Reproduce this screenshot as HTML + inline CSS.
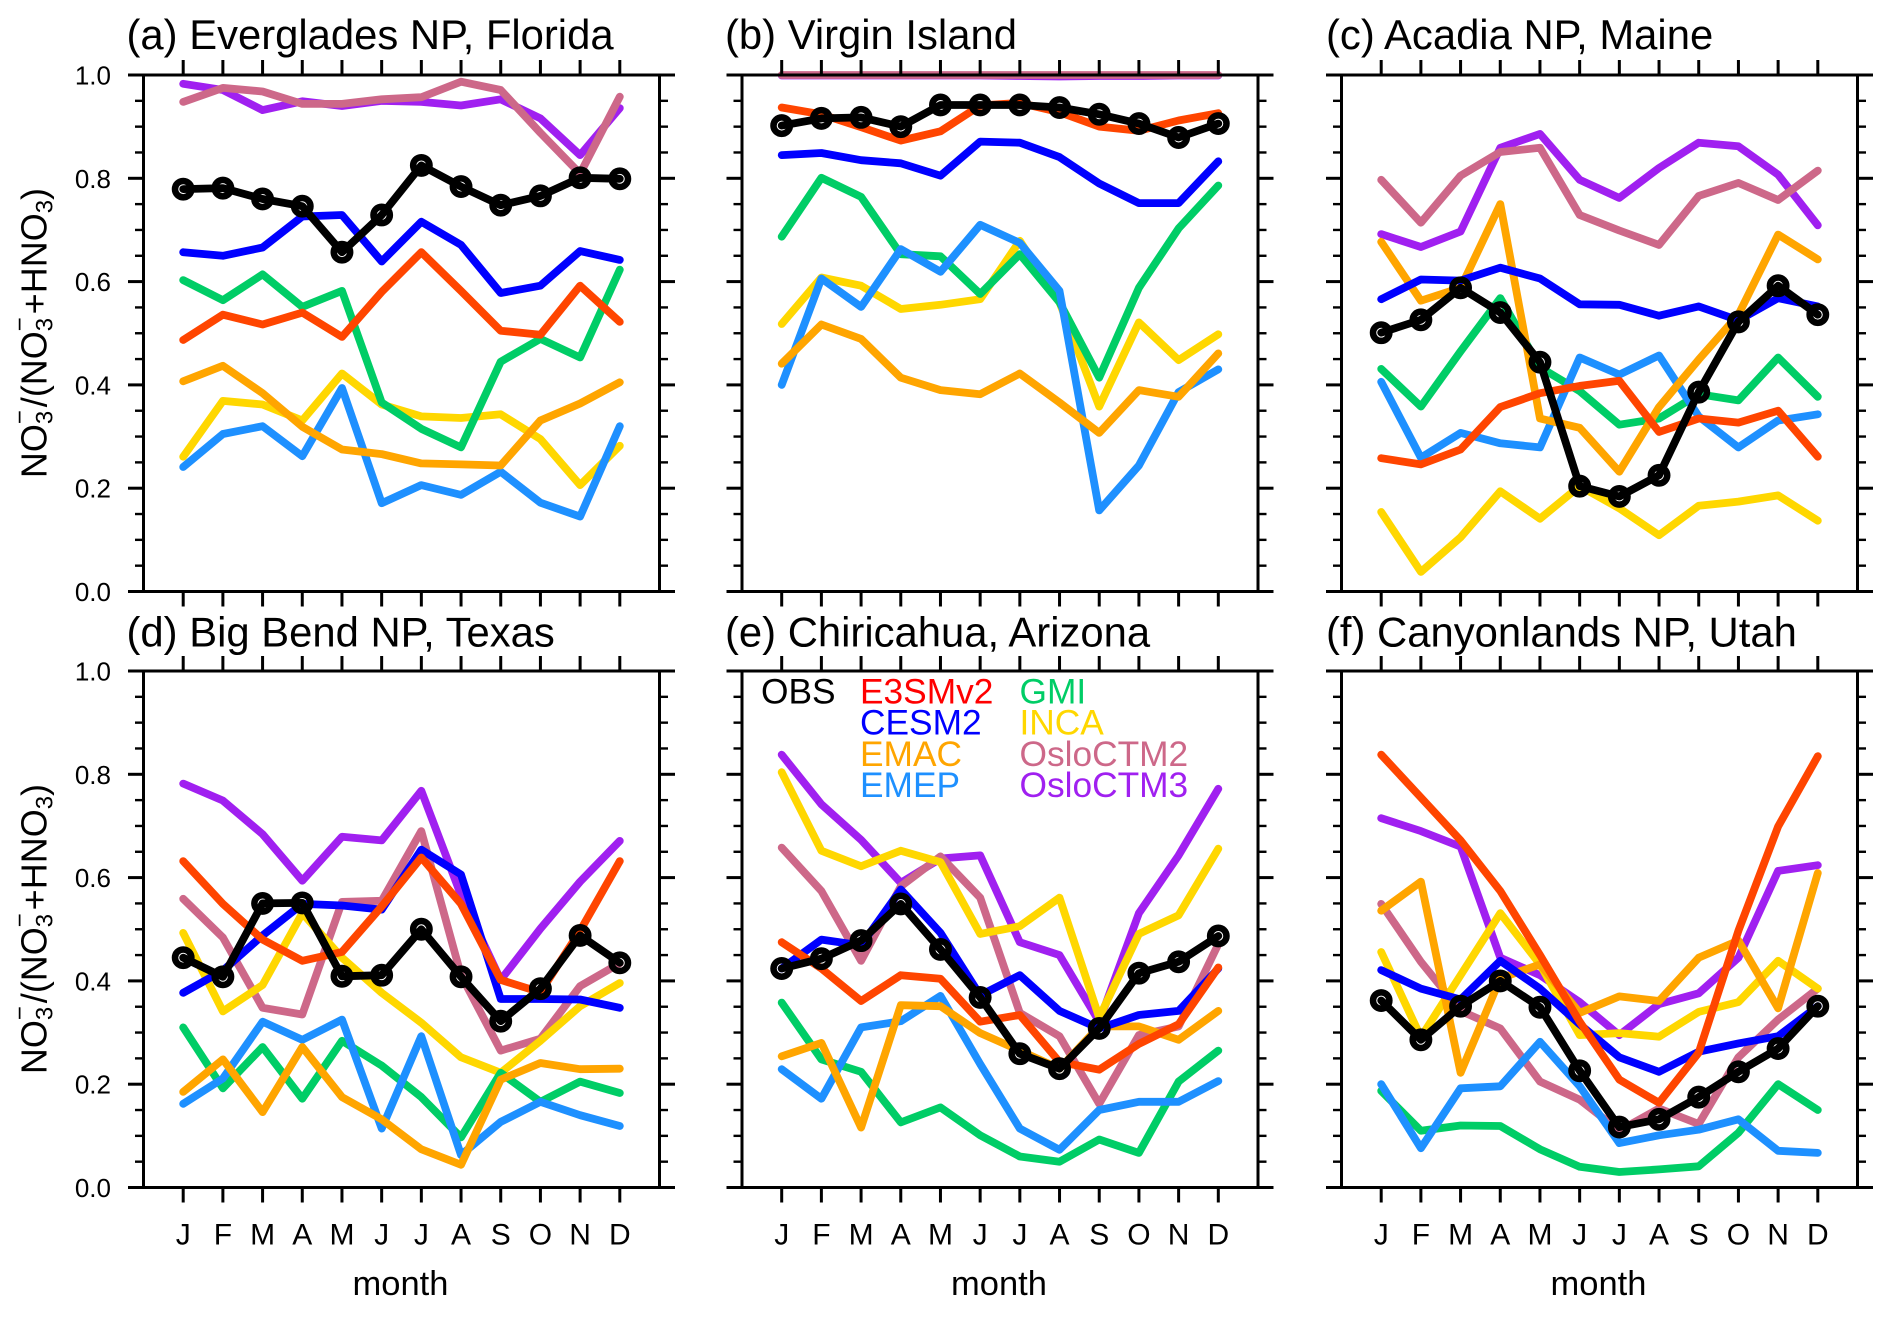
<!DOCTYPE html>
<html lang="en">
<head>
<meta charset="utf-8">
<title>Nitrate partitioning by month at six sites</title>
<style>
html,body{margin:0;padding:0;background:#fff;}
svg{display:block;}
text{font-family:"Liberation Sans",Arial,sans-serif;fill:#000;}
</style>
</head>
<body>
<svg id="chart" xmlns="http://www.w3.org/2000/svg" width="1892" height="1317" viewBox="0 0 1892 1317"></svg>
<script>
const monthLabels = ["J","F","M","A","M","J","J","A","S","O","N","D"];
const yMajorLabels = ["0.0","0.2","0.4","0.6","0.8","1.0"];
const yMinorTicks = [0.05,0.1,0.15,0.25,0.3,0.35,0.45,0.5,0.55,0.65,0.7,0.75,0.85,0.9,0.95];

const a_OBS = [.779,.781,.760,.746,.657,.729,.825,.784,.748,.766,.801,.799];
const a_E3SMv2 = [.487,.536,.517,.540,.493,.580,.657,.582,.505,.497,.592,.522];
const a_CESM2 = [.657,.650,.666,.726,.729,.639,.716,.671,.578,.592,.659,.642];
const a_EMAC = [.407,.437,.384,.319,.275,.266,.248,.246,.244,.331,.364,.405];
const a_EMEP = [.241,.305,.320,.262,.394,.171,.206,.187,.232,.172,.145,.320];
const a_GMI = [.603,.564,.614,.551,.582,.366,.315,.279,.445,.489,.453,.623];
const a_INCA = [.261,.369,.362,.331,.422,.362,.339,.336,.343,.295,.206,.282];
const a_OsloCTM2 = [.948,.975,.968,.944,.944,.953,.957,.987,.971,.888,.809,.958];
const a_OsloCTM3 = [.983,.971,.932,.949,.940,.950,.948,.941,.953,.916,.845,.936];

const b_OBS = [.902,.916,.918,.900,.942,.942,.942,.937,.924,.906,.879,.906];
const b_E3SMv2 = [.937,.924,.899,.873,.891,.941,.946,.928,.900,.892,.912,.926];
const b_CESM2 = [.845,.849,.835,.829,.805,.871,.869,.841,.790,.752,.752,.833];
const b_EMAC = [.441,.517,.489,.414,.390,.382,.422,.366,.307,.390,.377,.461];
const b_EMEP = [.400,.606,.551,.663,.619,.710,.675,.582,.157,.244,.386,.430];
const b_GMI = [.687,.801,.764,.653,.649,.576,.653,.560,.414,.588,.703,.786];
const b_INCA = [.518,.608,.592,.547,.555,.566,.679,.560,.358,.521,.448,.498];
const b_OsloCTM2 = [1,1,1,1,1,1,1,1,1,1,1,1];
const b_OsloCTM3 = [.999,.999,.999,.999,.999,.999,.998,.997,.998,.998,.999,.999];

const c_OBS = [.501,.526,.588,.540,.444,.204,.184,.225,.386,.522,.592,.536];
const c_E3SMv2 = [.258,.246,.275,.357,.384,.398,.408,.309,.335,.327,.350,.261];
const c_CESM2 = [.566,.604,.602,.627,.606,.556,.555,.534,.552,.525,.568,.552];
const c_EMAC = [.677,.563,.588,.750,.335,.317,.232,.357,.449,.536,.691,.643];
const c_EMEP = [.406,.259,.307,.287,.279,.453,.420,.457,.339,.279,.331,.343];
const c_GMI = [.431,.358,.465,.568,.434,.388,.323,.335,.382,.370,.453,.377];
const c_INCA = [.154,.038,.105,.194,.141,.204,.161,.109,.166,.174,.186,.137];
const c_OsloCTM2 = [.797,.714,.805,.851,.859,.729,.699,.671,.766,.791,.758,.815];
const c_OsloCTM3 = [.692,.667,.697,.859,.886,.797,.762,.820,.869,.862,.807,.709];

const d_OBS = [.445,.408,.550,.551,.409,.411,.500,.408,.322,.385,.488,.435];
const d_E3SMv2 = [.632,.549,.480,.439,.456,.544,.639,.549,.402,.378,.497,.632];
const d_CESM2 = [.377,.420,.488,.549,.546,.538,.654,.606,.365,.365,.364,.348];
const d_EMAC = [.185,.248,.146,.272,.175,.132,.074,.044,.209,.241,.229,.230];
const d_EMEP = [.162,.211,.321,.286,.325,.114,.293,.063,.127,.166,.140,.119];
const d_GMI = [.310,.192,.272,.172,.284,.236,.175,.097,.222,.166,.205,.183];
const d_INCA = [.493,.341,.392,.531,.445,.377,.319,.252,.222,.284,.351,.396];
const d_OsloCTM2 = [.559,.484,.348,.335,.553,.555,.690,.411,.265,.288,.390,.434];
const d_OsloCTM3 = [.782,.749,.684,.594,.679,.672,.768,.566,.402,.501,.592,.671];

const e_OBS = [.424,.443,.478,.549,.461,.368,.259,.230,.308,.415,.437,.487];
const e_E3SMv2 = [.475,.424,.361,.411,.404,.321,.334,.243,.228,.278,.316,.426];
const e_CESM2 = [.424,.480,.469,.577,.493,.372,.411,.342,.308,.334,.342,.424];
const e_EMAC = [.254,.280,.116,.353,.351,.299,.265,.230,.312,.312,.286,.342];
const e_EMEP = [.229,.172,.310,.322,.371,.239,.114,.073,.150,.166,.166,.206];
const e_GMI = [.358,.248,.224,.126,.155,.101,.060,.050,.093,.067,.205,.265];
const e_INCA = [.804,.652,.622,.652,.630,.491,.506,.561,.329,.491,.527,.656];
const e_OsloCTM2 = [.658,.574,.439,.583,.641,.561,.338,.293,.162,.295,.312,.471];
const e_OsloCTM3 = [.838,.742,.673,.590,.637,.643,.475,.450,.321,.531,.643,.772];

const f_OBS = [.362,.286,.351,.400,.349,.226,.117,.132,.175,.224,.269,.351];
const f_E3SMv2 = [.838,.755,.672,.574,.450,.321,.209,.164,.261,.497,.699,.835];
const f_CESM2 = [.421,.385,.364,.439,.385,.316,.252,.224,.263,.279,.293,.351];
const f_EMAC = [.536,.592,.222,.405,.432,.338,.370,.361,.445,.478,.347,.609];
const f_EMEP = [.200,.076,.192,.196,.282,.196,.086,.101,.112,.132,.071,.067];
const f_GMI = [.187,.110,.120,.119,.074,.040,.030,.035,.041,.106,.200,.150];
const f_INCA = [.456,.291,.411,.531,.432,.295,.299,.292,.340,.359,.439,.385];
const f_OsloCTM2 = [.549,.437,.342,.308,.205,.170,.110,.153,.123,.252,.325,.385];
const f_OsloCTM3 = [.715,.690,.660,.445,.411,.359,.295,.355,.376,.445,.613,.624];

const panelTitles = ["(a) Everglades NP, Florida","(b) Virgin Island","(c) Acadia NP, Maine","(d) Big Bend NP, Texas","(e) Chiricahua, Arizona","(f) Canyonlands NP, Utah"];

const svg = document.getElementById('chart');
const NS = 'http://www.w3.org/2000/svg';
function mk(tag, parent, attrs, txt) {
  const el = document.createElementNS(NS, tag);
  for (const k in attrs) el.setAttribute(k, attrs[k]);
  if (txt !== undefined) el.textContent = txt;
  parent.appendChild(el);
  return el;
}

const seriesNames = ["OsloCTM3","OsloCTM2","INCA","GMI","EMEP","EMAC","CESM2","E3SMv2","OBS"];
const lineColors = {OsloCTM3:"#a020f0",OsloCTM2:"#cd6889",INCA:"#ffd700",GMI:"#00cd66",EMEP:"#1e90ff",EMAC:"#ffa500",CESM2:"#0000ff",E3SMv2:"#ff4500",OBS:"#000000"};
const panelData = [
  {OBS:a_OBS,E3SMv2:a_E3SMv2,CESM2:a_CESM2,EMAC:a_EMAC,EMEP:a_EMEP,GMI:a_GMI,INCA:a_INCA,OsloCTM2:a_OsloCTM2,OsloCTM3:a_OsloCTM3},
  {OBS:b_OBS,E3SMv2:b_E3SMv2,CESM2:b_CESM2,EMAC:b_EMAC,EMEP:b_EMEP,GMI:b_GMI,INCA:b_INCA,OsloCTM2:b_OsloCTM2,OsloCTM3:b_OsloCTM3},
  {OBS:c_OBS,E3SMv2:c_E3SMv2,CESM2:c_CESM2,EMAC:c_EMAC,EMEP:c_EMEP,GMI:c_GMI,INCA:c_INCA,OsloCTM2:c_OsloCTM2,OsloCTM3:c_OsloCTM3},
  {OBS:d_OBS,E3SMv2:d_E3SMv2,CESM2:d_CESM2,EMAC:d_EMAC,EMEP:d_EMEP,GMI:d_GMI,INCA:d_INCA,OsloCTM2:d_OsloCTM2,OsloCTM3:d_OsloCTM3},
  {OBS:e_OBS,E3SMv2:e_E3SMv2,CESM2:e_CESM2,EMAC:e_EMAC,EMEP:e_EMEP,GMI:e_GMI,INCA:e_INCA,OsloCTM2:e_OsloCTM2,OsloCTM3:e_OsloCTM3},
  {OBS:f_OBS,E3SMv2:f_E3SMv2,CESM2:f_CESM2,EMAC:f_EMAC,EMEP:f_EMEP,GMI:f_GMI,INCA:f_INCA,OsloCTM2:f_OsloCTM2,OsloCTM3:f_OsloCTM3}
];

const colLeft = [143.5, 742, 1341.5];
const rowTop = [75, 671];
const plotW = 516, plotH = 516.5;

function drawPanel(i) {
  const col = i % 3, row = Math.floor(i / 3);
  const L = colLeft[col], T = rowTop[row], R = L + plotW, B = T + plotH;
  const xAxis = m => L + (m + 1) * plotW / 13;
  const yAxis = v => B - v * plotH;
  const g = mk('g', svg, {});
  
  

  const title = mk('text', g, {x: L + [-17, -17, -15.5][col], y: T - 26 + (row ? 1.5 : 0), 'font-size': 41.8}, panelTitles[i]);
  
  

  seriesNames.forEach(name => {
    const vals = panelData[i][name];
    const pts = vals.map((v, m) => xAxis(m).toFixed(1) + ',' + yAxis(v).toFixed(1)).join(' ');
    const line = mk('polyline', g, {points: pts, fill: 'none', stroke: lineColors[name], 'stroke-width': 7.8, 'stroke-linecap': 'round', 'stroke-linejoin': 'round'});
    
    
    if (name === 'OBS') {
      vals.forEach((v, m) => {
        const c = mk('circle', g, {cx: xAxis(m), cy: yAxis(v), r: 8.2, fill: 'none', stroke: '#000', 'stroke-width': 6.5});
        
        
      });
    }
  });

  const frame = mk('rect', g, {x: L, y: T, width: plotW, height: plotH, fill: 'none', stroke: '#000', 'stroke-width': 3});
  
  

  const ticks = mk('g', g, {stroke: '#000', fill: 'none'});
  
  
  monthLabels.forEach((lab, m) => {
    mk('line', ticks, {x1: xAxis(m), x2: xAxis(m), y1: T, y2: T - 15, 'stroke-width': 3});
    mk('line', ticks, {x1: xAxis(m), x2: xAxis(m), y1: B, y2: B + 15, 'stroke-width': 3});
    if (row === 1) {
      const t = mk('text', g, {x: xAxis(m), y: B + 56.8, 'font-size': 30, 'text-anchor': 'middle'}, lab);
      
      
    }
  });
  yMajorLabels.forEach(lab => {
    const v = parseFloat(lab);
    mk('line', ticks, {x1: L - 15.5, x2: L, y1: yAxis(v), y2: yAxis(v), 'stroke-width': 3});
    mk('line', ticks, {x1: R, x2: R + 15.5, y1: yAxis(v), y2: yAxis(v), 'stroke-width': 3});
    if (col === 0) {
      const t = mk('text', g, {x: L - 32.5, y: yAxis(v) + 9.5, 'font-size': 26, 'text-anchor': 'end'}, lab);
      
      
    }
  });
  yMinorTicks.forEach(v => {
    mk('line', ticks, {x1: L - 8.5, x2: L, y1: yAxis(v), y2: yAxis(v), 'stroke-width': 2.4});
    mk('line', ticks, {x1: R, x2: R + 8.5, y1: yAxis(v), y2: yAxis(v), 'stroke-width': 2.4});
  });

  if (row === 1) {
    const t = mk('text', g, {x: L + plotW / 2 - 1, y: B + 107.5, 'font-size': 34.5, 'text-anchor': 'middle'}, 'month');
    
    
  }
  if (col === 0) {
    const cy = T + 258;
    const t = mk('text', g, {transform: 'translate(46.5,' + cy + ') rotate(-90)', 'font-size': 36, 'text-anchor': 'middle'});
    
    
    const parts = [
      ['NO', 0, 0, 36], ['3', 6, 0, 24], ['\u2212', -25, -13.5, 24], ['/(', 19, 3, 36],
      ['NO', 0, 0, 36], ['3', 6, 0, 24], ['\u2212', -25, -13.5, 24], ['+', 19, 3, 36],
      ['HNO', 0, 0, 36], ['3', 6, 0, 24], [')', -6, 0, 36]
    ];
    parts.forEach(p => {
      mk('tspan', t, {dy: p[1], dx: p[2], 'font-size': p[3]}, p[0]);
    });
  }
}
for (let i = 0; i < 6; i++) drawPanel(i);

const legendEntries = [
  {label:"OBS",color:"#000000",x:761,y:703.5},
  {label:"E3SMv2",color:"#ff0000",x:860,y:703.5},
  {label:"CESM2",color:"#0000ff",x:860,y:734.7},
  {label:"EMAC",color:"#ffa500",x:860,y:765.8},
  {label:"EMEP",color:"#1e90ff",x:860,y:796.9},
  {label:"GMI",color:"#00cd66",x:1019.5,y:703.5},
  {label:"INCA",color:"#ffd700",x:1019.5,y:734.7},
  {label:"OsloCTM2",color:"#cd6889",x:1019.5,y:765.8},
  {label:"OsloCTM3",color:"#a020f0",x:1019.5,y:796.9}
];
const legend = mk('g', svg, {});


legendEntries.forEach(en => {
  const t = mk('text', legend, {x: en.x, y: en.y, 'font-size': 35.3, style: 'fill:' + en.color}, en.label);
  
  
});
</script>
</body>
</html>
